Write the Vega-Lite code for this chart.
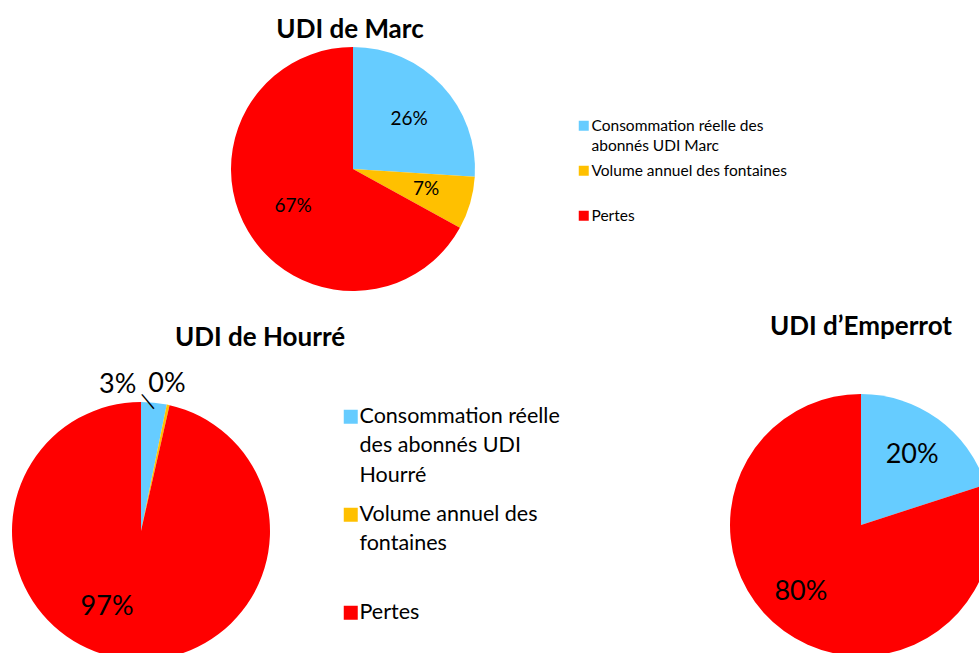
{
  "$schema": "https://vega.github.io/schema/vega-lite/v6.json",
  "background": "white",
  "padding": {"top": 17, "left": 0, "right": 0, "bottom": 0},
  "config": {
    "view": {"stroke": null},
    "font": "Lato",
    "title": {"font": "Lato", "fontWeight": "bold", "fontSize": 26, "color": "black", "anchor": "middle", "frame": "group"},
    "legend": {"padding": 0, "symbolType": "square", "labelFont": "Lato", "labelColor": "black", "labelLimit": 0, "gridAlign": "all", "symbolStrokeWidth": 0}
  },
  "bounds": "flush",
  "spacing": 108,
  "resolve": {"scale": {"color": "independent", "theta": "independent"}, "legend": {"color": "independent"}},
  "vconcat": [
    {
      "width": 706,
      "height": 244,
      "title": {"text": "UDI de Marc", "offset": 4, "dx": -3},
      "data": {"values": [
        {"cat": "Consommation réelle des abonnés UDI Marc", "v": 26, "k": 1, "lbl": "26%"},
        {"cat": "Volume annuel des fontaines", "v": 7, "k": 2, "lbl": "7%"},
        {"cat": "Pertes", "v": 67, "k": 3, "lbl": "67%"}
      ]},
      "encoding": {
        "theta": {"field": "v", "type": "quantitative", "stack": true},
        "order": {"field": "k", "type": "quantitative"}
      },
      "layer": [
        {
          "mark": {"type": "arc", "outerRadius": 122},
          "encoding": {
            "color": {
              "field": "cat", "type": "nominal",
              "scale": {"domain": ["Consommation réelle des abonnés UDI Marc", "Volume annuel des fontaines", "Pertes"], "range": ["#66CCFF", "#FFC000", "#FF0000"]},
              "legend": {
                "title": null, "orient": "none", "legendX": 576, "legendY": 71,
                "symbolSize": 100, "labelFontSize": 15.5, "rowPadding": 8, "labelOffset": 0,
                "labelExpr": "datum.label == 'Pertes' ? 'Pertes' : datum.label == 'Volume annuel des fontaines' ? 'Volume annuel des fontaines' : ['Consommation réelle des', 'abonnés  UDI Marc']",
                "labelBaseline": "middle",
                "encode": {"labels": {"update": {"lineHeight": {"value": 20}}}}
              }
            }
          }
        },
        {
          "mark": {"type": "text", "radius": 73, "fontSize": 19, "font": "Lato", "color": "black", "dx": 3},
          "encoding": {"text": {"field": "lbl", "type": "nominal"}, "detail": {"field": "cat", "type": "nominal"}}
        }
      ]
    },
    {
      "hconcat": [
        {
          "width": 282,
          "height": 264,
          "title": {"text": "UDI de Hourré", "offset": 17, "dx": 119},
          "data": {"values": [
            {"cat": "Consommation réelle des abonnés UDI Hourré", "v": 3.2, "k": 1, "lbl": "3%"},
            {"cat": "Volume annuel des fontaines", "v": 0.35, "k": 2, "lbl": "0%"},
            {"cat": "Pertes", "v": 96.45, "k": 3, "lbl": "97%"}
          ]},
          "encoding": {
            "theta": {"field": "v", "type": "quantitative", "stack": true},
            "order": {"field": "k", "type": "quantitative"}
          },
          "layer": [
            {
              "mark": {"type": "arc", "outerRadius": 129},
              "encoding": {
                "color": {
                  "field": "cat", "type": "nominal",
                  "scale": {"domain": ["Consommation réelle des abonnés UDI Hourré", "Volume annuel des fontaines", "Pertes"], "range": ["#66CCFF", "#FFC000", "#FF0000"]},
                  "legend": {
                    "title": null, "orient": "none", "legendX": 340, "legendY": 7,
                    "symbolSize": 196, "labelFontSize": 21.5, "rowPadding": 16, "labelOffset": -2,
                    "labelExpr": "datum.label == 'Pertes' ? 'Pertes' : datum.label == 'Volume annuel des fontaines' ? ['Volume annuel des', 'fontaines'] : ['Consommation réelle', 'des  abonnés  UDI', 'Hourré']",
                    "labelBaseline": "middle",
                    "encode": {"labels": {"update": {"lineHeight": {"value": 29.5}}}}
                  }
                }
              }
            },
            {
              "mark": {"type": "text", "radius": 80, "fontSize": 27, "font": "Lato", "color": "black", "dx": -25, "dy": -4},
              "encoding": {
                "text": {"field": "lbl", "type": "nominal"},
                "detail": {"field": "cat", "type": "nominal"},
                "opacity": {"condition": {"test": "datum.k == 3", "value": 1}, "value": 0}
              }
            },
            {
              "mark": {"type": "text", "radius": 147, "fontSize": 27, "font": "Lato", "color": "black", "dx": -38},
              "encoding": {
                "text": {"field": "lbl", "type": "nominal"},
                "detail": {"field": "cat", "type": "nominal"},
                "opacity": {"condition": {"test": "datum.k == 1", "value": 1}, "value": 0}
              }
            },
            {
              "mark": {"type": "text", "radius": 147, "fontSize": 27, "font": "Lato", "color": "black", "dx": -5, "dy": -3},
              "encoding": {
                "text": {"field": "lbl", "type": "nominal"},
                "detail": {"field": "cat", "type": "nominal"},
                "opacity": {"condition": {"test": "datum.k == 2", "value": 1}, "value": 0}
              }
            },
            {
              "mark": {"type": "text", "radius": 136, "fontSize": 20, "font": "Lato", "color": "black", "dx": -9, "angle": 320},
              "encoding": {
                "text": {"value": "|"},
                "detail": {"field": "cat", "type": "nominal"},
                "opacity": {"condition": {"test": "datum.k == 1", "value": 1}, "value": 0}
              }
            }
          ]
        },
        {
          "width": 262,
          "height": 252,
          "title": {"text": "UDI d’Emperrot", "offset": 54},
          "data": {"values": [
            {"cat": "Consommation réelle des abonnés UDI d’Emperrot", "v": 20, "k": 1, "lbl": "20%"},
            {"cat": "Pertes", "v": 80, "k": 3, "lbl": "80%"}
          ]},
          "encoding": {
            "theta": {"field": "v", "type": "quantitative", "stack": true},
            "order": {"field": "k", "type": "quantitative"}
          },
          "layer": [
            {
              "mark": {"type": "arc", "outerRadius": 131},
              "encoding": {
                "color": {
                  "field": "cat", "type": "nominal",
                  "scale": {"domain": ["Consommation réelle des abonnés UDI d’Emperrot", "Pertes"], "range": ["#66CCFF", "#FF0000"]},
                  "legend": null
                }
              }
            },
            {
              "mark": {"type": "text", "radius": 87, "fontSize": 27, "font": "Lato", "color": "black"},
              "encoding": {
                "text": {"field": "lbl", "type": "nominal"},
                "detail": {"field": "cat", "type": "nominal"},
                "opacity": {"condition": {"test": "datum.k == 1", "value": 1}, "value": 0}
              }
            },
            {
              "mark": {"type": "text", "radius": 87, "fontSize": 27, "font": "Lato", "color": "black", "dx": -9, "dy": -3},
              "encoding": {
                "text": {"field": "lbl", "type": "nominal"},
                "detail": {"field": "cat", "type": "nominal"},
                "opacity": {"condition": {"test": "datum.k == 3", "value": 1}, "value": 0}
              }
            }
          ]
        }
      ],
      "spacing": 448,
      "bounds": "flush",
      "resolve": {"scale": {"color": "independent", "theta": "independent"}, "legend": {"color": "independent"}}
    }
  ]
}
